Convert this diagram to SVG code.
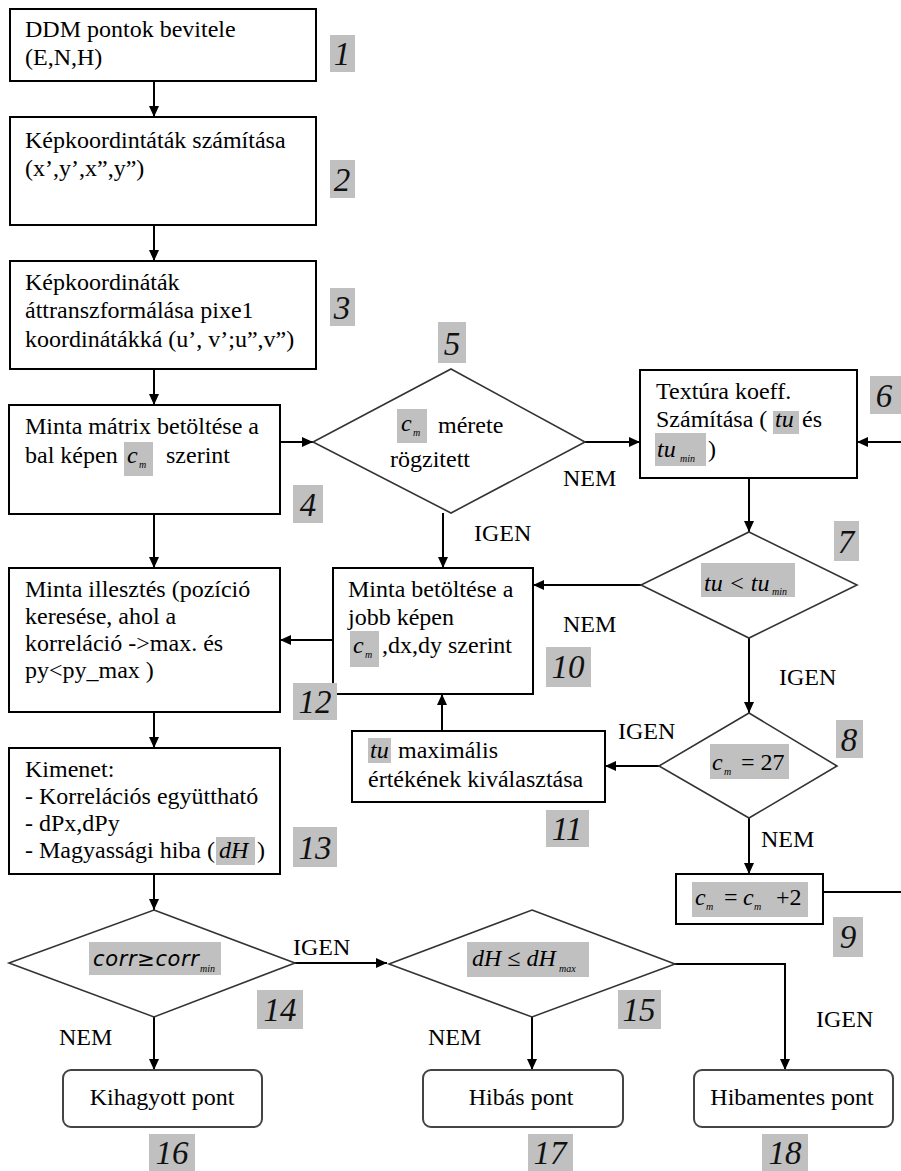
<svg xmlns="http://www.w3.org/2000/svg" width="901" height="1171" viewBox="0 0 901 1171">
  <defs>
    <marker id="arr" markerUnits="userSpaceOnUse" markerWidth="11" markerHeight="10" refX="11" refY="5" orient="auto">
      <path d="M0,0 L11,5 L0,10 z" fill="#000"/>
    </marker>
    <style>
      .box { fill: #fff; stroke: #000; stroke-width: 2; }
      .dia { fill: #fff; stroke: #333; stroke-width: 1.6; }
      .term { fill: #fff; stroke: #444; stroke-width: 2; }
      .hl { fill: #c0c0c0; }
      text { font-family: 'Liberation Serif', 'DejaVu Serif', serif; }
      .t { font-size: 24px; fill: #000; }
      .i { font-style: italic; }
      .sub { font-size: 10px; font-style: italic; fill: #000; }
      .n { font-size: 33px; font-style: italic; fill: #111; text-anchor: middle; }
      .c { text-anchor: middle; }
      .sans { font-family: 'DejaVu Sans', sans-serif; font-size: 21px; font-style: italic; fill: #000; }
      .conn path { fill: none; stroke: #000; stroke-width: 2; marker-end: url(#arr); }
    </style>
  </defs>

  <rect width="901" height="1171" fill="#fff"/>

  <!-- connectors -->
  <g id="connectors" class="conn">
    <path d="M154,81 V117"/>
    <path d="M154,225 V261"/>
    <path d="M154,369 V405"/>
    <path d="M280,442 H313"/>
    <path d="M585,442 H640"/>
    <path d="M749,478 V532"/>
    <path d="M443,513 V568"/>
    <path d="M641,585 H533"/>
    <path d="M749,638 V713"/>
    <path d="M659,766 H605"/>
    <path d="M442,731 V694"/>
    <path d="M749,818 V874"/>
    <path d="M823,892 H906 V442 H857"/>
    <path d="M154,514 V568"/>
    <path d="M333,640 H280"/>
    <path d="M154,712 V748"/>
    <path d="M154,874 V910"/>
    <path d="M295,963 H387"/>
    <path d="M154,1017 V1070"/>
    <path d="M532,1017 V1070"/>
    <path d="M675,964 H785 V1070"/>
  </g>

  <!-- branch labels -->
  <g id="branch-labels">
    <text class="t" x="563" y="486">NEM</text>
    <text class="t" x="474" y="541">IGEN</text>
    <text class="t" x="563" y="632">NEM</text>
    <text class="t" x="779" y="685">IGEN</text>
    <text class="t" x="618" y="739">IGEN</text>
    <text class="t" x="761" y="847">NEM</text>
    <text class="t" x="293" y="955">IGEN</text>
    <text class="t" x="59" y="1045">NEM</text>
    <text class="t" x="428" y="1045">NEM</text>
    <text class="t" x="816" y="1027">IGEN</text>
  </g>

  <!-- 1 -->
  <g id="n1">
    <rect class="box" x="10" y="9" width="306" height="72"/>
    <text class="t" x="25" y="37">DDM pontok bevitele</text>
    <text class="t" x="25" y="65">(E,N,H)</text>
    <rect class="hl" x="330" y="35" width="25" height="37"/>
    <text class="n" x="342" y="65">1</text>
  </g>

  <!-- 2 -->
  <g id="n2">
    <rect class="box" x="10" y="117" width="306" height="108"/>
    <text class="t" x="25" y="148">Képkoordintáták számítása</text>
    <text class="t" x="25" y="176">(x’,y’,x”,y”)</text>
    <rect class="hl" x="330" y="160" width="25" height="38"/>
    <text class="n" x="342" y="191">2</text>
  </g>

  <!-- 3 -->
  <g id="n3">
    <rect class="box" x="10" y="261" width="306" height="108"/>
    <text class="t" x="25" y="290">Képkoordináták</text>
    <text class="t" x="25" y="318">áttranszformálása pixe1</text>
    <text class="t" x="25" y="347">koordinátákká (u’, v’;u”,v”)</text>
    <rect class="hl" x="330" y="288" width="25" height="38"/>
    <text class="n" x="342" y="319">3</text>
  </g>

  <!-- 4 -->
  <g id="n4">
    <rect class="box" x="9" y="405" width="271" height="109"/>
    <text class="t" x="25" y="434">Minta mátrix betöltése a</text>
    <text class="t" x="25" y="463">bal képen</text>
    <rect class="hl" x="124" y="442" width="29" height="34"/>
    <text class="t i" x="127" y="463">c</text>
    <text class="sub" x="139" y="468">m</text>
    <text class="t" x="166" y="463">szerint</text>
    <rect class="hl" x="293" y="485" width="30" height="38"/>
    <text class="n" x="308" y="516">4</text>
  </g>

  <!-- 5 -->
  <g id="n5">
    <polygon class="dia" points="451,369 585,442 451,513 313,442"/>
    <rect class="hl" x="397" y="409" width="30" height="34"/>
    <text class="t i" x="401" y="431">c</text>
    <text class="sub" x="413" y="436">m</text>
    <text class="t" x="438" y="433">mérete</text>
    <text class="t" x="390" y="467">rögzitett</text>
    <rect class="hl" x="438" y="322" width="28" height="41"/>
    <text class="n" x="452" y="355">5</text>
  </g>

  <!-- 6 -->
  <g id="n6">
    <rect class="box" x="640" y="370" width="217" height="108"/>
    <text class="t" x="656" y="399">Textúra koeff.</text>
    <text class="t" x="656" y="427">Számítása (</text>
    <rect class="hl" x="773" y="411" width="26" height="23"/>
    <text class="t i" x="775" y="427">tu</text>
    <text class="t" x="802" y="427">és</text>
    <rect class="hl" x="655" y="433" width="51" height="33"/>
    <text class="t i" x="657" y="457">tu</text>
    <text class="sub" x="680" y="462">min</text>
    <text class="t" x="708" y="457">)</text>
    <rect class="hl" x="870" y="376" width="31" height="38"/>
    <text class="n" x="884" y="407">6</text>
  </g>

  <!-- 7 -->
  <g id="n7">
    <polygon class="dia" points="749,532 857,585 749,638 641,585"/>
    <rect class="hl" x="701" y="563" width="94" height="34"/>
    <text class="t i" x="704" y="591">tu &lt; tu</text>
    <text class="sub" x="772" y="595">min</text>
    <rect class="hl" x="834" y="521" width="25" height="40"/>
    <text class="n" x="846" y="553">7</text>
  </g>

  <!-- 8 -->
  <g id="n8">
    <polygon class="dia" points="749,713 837,766 749,818 659,766"/>
    <rect class="hl" x="710" y="744" width="79" height="35"/>
    <text class="t i" x="712" y="770">c</text>
    <text class="sub" x="724" y="775">m</text>
    <text class="t" x="741" y="770">= 27</text>
    <rect class="hl" x="836" y="720" width="27" height="38"/>
    <text class="n" x="849" y="751">8</text>
  </g>

  <!-- 9 -->
  <g id="n9">
    <rect class="box" x="676" y="874" width="147" height="50"/>
    <rect class="hl" x="692" y="882" width="116" height="35"/>
    <text class="t i" x="695" y="905">c</text>
    <text class="sub" x="706" y="910">m</text>
    <text class="t" x="724" y="905">=</text>
    <text class="t i" x="743" y="905">c</text>
    <text class="sub" x="754" y="910">m</text>
    <text class="t" x="776" y="905">+2</text>
    <rect class="hl" x="833" y="917" width="30" height="40"/>
    <text class="n" x="848" y="948">9</text>
  </g>

  <!-- 10 -->
  <g id="n10">
    <rect class="box" x="333" y="568" width="200" height="126"/>
    <text class="t" x="348" y="597">Minta betöltése a</text>
    <text class="t" x="348" y="625">jobb képen</text>
    <rect class="hl" x="350" y="631" width="29" height="36"/>
    <text class="t i" x="353" y="653">c</text>
    <text class="sub" x="365" y="658">m</text>
    <text class="t" x="382" y="653">,dx,dy szerint</text>
    <rect class="hl" x="546" y="647" width="45" height="40"/>
    <text class="n" x="568" y="678">10</text>
  </g>

  <!-- 11 -->
  <g id="n11">
    <rect class="box" x="352" y="731" width="253" height="71"/>
    <rect class="hl" x="368" y="738" width="23" height="25"/>
    <text class="t i" x="370" y="758">tu</text>
    <text class="t" x="398" y="758">maximális</text>
    <text class="t" x="368" y="787">értékének kiválasztása</text>
    <rect class="hl" x="546" y="810" width="43" height="37"/>
    <text class="n" x="567" y="840">11</text>
  </g>

  <!-- 12 -->
  <g id="n12">
    <rect class="box" x="9" y="568" width="271" height="144"/>
    <text class="t" x="25" y="597">Minta illesztés (pozíció</text>
    <text class="t" x="25" y="624">keresése, ahol a</text>
    <text class="t" x="25" y="651">korreláció -&gt;max. és</text>
    <text class="t" x="25" y="678">py&lt;py_max )</text>
    <rect class="hl" x="293" y="683" width="44" height="37"/>
    <text class="n" x="315" y="713">12</text>
  </g>

  <!-- 13 -->
  <g id="n13">
    <rect class="box" x="9" y="748" width="271" height="126"/>
    <text class="t" x="25" y="777">Kimenet:</text>
    <text class="t" x="25" y="804">- Korrelációs együttható</text>
    <text class="t" x="25" y="831">- dPx,dPy</text>
    <text class="t" x="25" y="858">- Magyassági hiba (</text>
    <rect class="hl" x="216" y="837" width="39" height="28"/>
    <text class="t i" x="219" y="858">dH</text>
    <text class="t" x="257" y="858">)</text>
    <rect class="hl" x="293" y="827" width="44" height="40"/>
    <text class="n" x="315" y="859">13</text>
  </g>

  <!-- 14 -->
  <g id="n14">
    <polygon class="dia" points="154,910 295,963 154,1017 9,963"/>
    <rect class="hl" x="89" y="942" width="132" height="33"/>
    <text class="sans" x="93" y="966" textLength="106" lengthAdjust="spacing">corr≥corr</text>
    <text class="sub" x="200" y="972">min</text>
    <rect class="hl" x="257" y="990" width="46" height="39"/>
    <text class="n" x="280" y="1021">14</text>
  </g>

  <!-- 15 -->
  <g id="n15">
    <polygon class="dia" points="532,910 675,964 532,1017 389,964"/>
    <rect class="hl" x="467" y="942" width="122" height="35"/>
    <text class="t i" x="472" y="966">dH ≤ dH</text>
    <text class="sub" x="559" y="972">max</text>
    <rect class="hl" x="618" y="990" width="43" height="39"/>
    <text class="n" x="639" y="1021">15</text>
  </g>

  <!-- 16 -->
  <g id="n16">
    <rect class="term" x="63" y="1070" width="199" height="57" rx="8"/>
    <text class="t c" x="162" y="1105">Kihagyott pont</text>
    <rect class="hl" x="149" y="1134" width="46" height="37"/>
    <text class="n" x="172" y="1164">16</text>
  </g>

  <!-- 17 -->
  <g id="n17">
    <rect class="term" x="423" y="1070" width="200" height="57" rx="8"/>
    <text class="t c" x="521" y="1105">Hibás pont</text>
    <rect class="hl" x="528" y="1134" width="45" height="37"/>
    <text class="n" x="550" y="1164">17</text>
  </g>

  <!-- 18 -->
  <g id="n18">
    <rect class="term" x="694" y="1070" width="199" height="57" rx="8"/>
    <text class="t c" x="792" y="1105">Hibamentes pont</text>
    <rect class="hl" x="762" y="1134" width="46" height="37"/>
    <text class="n" x="785" y="1164">18</text>
  </g>
</svg>
